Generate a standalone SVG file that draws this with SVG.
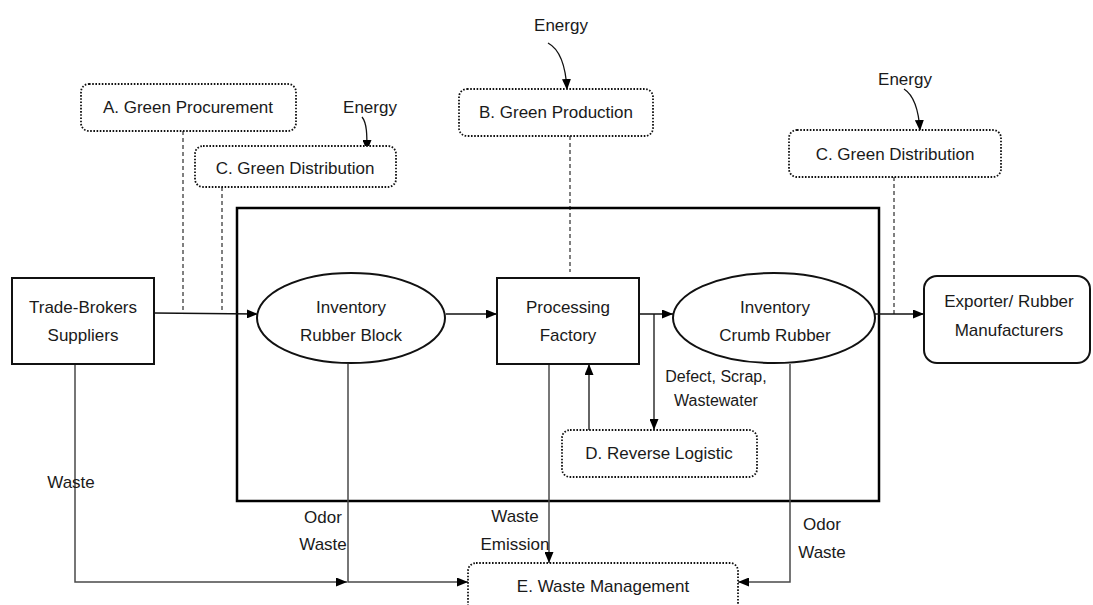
<svg xmlns="http://www.w3.org/2000/svg" width="1093" height="605" viewBox="0 0 1093 605">
  <style>
    text { font-family: "Liberation Sans", Arial, sans-serif; font-size: 17px; fill: #1a1a1a; text-anchor: middle; dominant-baseline: central; }
    .small { font-size: 16px; }
    .node { fill: #fff; stroke: #111; stroke-width: 2; }
    .green { fill: #fff; stroke: #111; stroke-width: 1.8; stroke-dasharray: 1.6 1.6; }
    .frame { fill: none; stroke: #000; stroke-width: 2.5; }
    .flow { fill: none; stroke: #111; stroke-width: 1.3; }
    .drop { fill: none; stroke: #4a4a4a; stroke-width: 1.5; }
    .link { fill: none; stroke: #000; stroke-width: 1; stroke-dasharray: 4 3; }
  </style>
  <defs>
    <marker id="arrow" markerUnits="userSpaceOnUse" markerWidth="11" markerHeight="9" refX="11" refY="4.5" orient="auto">
      <path d="M0,0 L11,4.5 L0,9 z" fill="#000"/>
    </marker>
  </defs>

  <rect width="1093" height="605" fill="#fff"/>

  <!-- system boundary -->
  <rect class="frame" x="237" y="208" width="642" height="293"/>

  <!-- connectors -->
  <g id="connectors">
    <!-- dashed links from the green practices -->
    <line class="link" x1="183" y1="131" x2="183" y2="313"/>
    <line class="link" x1="222" y1="187" x2="222" y2="313"/>
    <line class="link" x1="570" y1="136" x2="570" y2="272"/>
    <line class="link" x1="894" y1="177" x2="894" y2="314"/>

    <!-- energy inputs -->
    <path class="flow" d="M362,117 C367,123 367,135 367,151" marker-end="url(#arrow)"/>
    <path class="flow" d="M548,43 C561,50 566,70 567,90" marker-end="url(#arrow)"/>
    <path class="flow" d="M904,89 C915,96 919,114 920,131" marker-end="url(#arrow)"/>

    <!-- main material flow -->
    <line class="flow" x1="154" y1="313" x2="258" y2="314" marker-end="url(#arrow)"/>
    <line class="flow" x1="446" y1="314" x2="497" y2="314" marker-end="url(#arrow)"/>
    <line class="flow" x1="639" y1="314" x2="673" y2="314" marker-end="url(#arrow)"/>
    <line class="flow" x1="875" y1="314" x2="924" y2="314" marker-end="url(#arrow)"/>

    <!-- reverse logistic loop -->
    <polyline class="flow" points="654,314 654,430" marker-end="url(#arrow)"/>
    <line class="flow" x1="589" y1="430" x2="589" y2="364" marker-end="url(#arrow)"/>

    <!-- waste streams -->
    <polyline class="drop" points="75,364 75,582 347,582" marker-end="url(#arrow)"/>
    <polyline class="drop" points="348,364 348,582 468,582" marker-end="url(#arrow)"/>
    <line class="drop" x1="549" y1="364" x2="549" y2="563" marker-end="url(#arrow)"/>
    <polyline class="drop" points="790,364 790,582 738,582" marker-end="url(#arrow)"/>
  </g>

  <!-- flow labels -->
  <g id="labels">
    <text x="370" y="107">Energy</text>
    <text x="561" y="25">Energy</text>
    <text x="905" y="79">Energy</text>
    <text class="small" x="716" y="376">Defect, Scrap,</text>
    <text class="small" x="716" y="400">Wastewater</text>
    <text x="71" y="482">Waste</text>
    <text x="323" y="517">Odor</text>
    <text x="323" y="544">Waste</text>
    <text x="515" y="516">Waste</text>
    <text x="515" y="544">Emission</text>
    <text x="822" y="524">Odor</text>
    <text x="822" y="552">Waste</text>
  </g>

  <!-- green practice nodes -->
  <g id="green-procurement">
    <rect class="green" x="81" y="84" width="215" height="47" rx="8"/>
    <text x="188" y="107">A. Green Procurement</text>
  </g>
  <g id="green-distribution-in">
    <rect class="green" x="195" y="146" width="201" height="41" rx="8"/>
    <text x="295" y="168">C. Green Distribution</text>
  </g>
  <g id="green-production">
    <rect class="green" x="459" y="89" width="194" height="47" rx="8"/>
    <text x="556" y="112">B. Green Production</text>
  </g>
  <g id="green-distribution-out">
    <rect class="green" x="789" y="130" width="212" height="47" rx="8"/>
    <text x="895" y="154">C. Green Distribution</text>
  </g>
  <g id="reverse-logistic">
    <rect class="green" x="562" y="430" width="195" height="47" rx="8"/>
    <text x="659" y="453">D. Reverse Logistic</text>
  </g>
  <g id="waste-management">
    <rect class="green" x="468" y="563" width="270" height="60" rx="8"/>
    <text x="603" y="586">E. Waste Management</text>
  </g>

  <!-- supply chain nodes -->
  <g id="suppliers">
    <rect class="node" x="12" y="278" width="142" height="86"/>
    <text x="83" y="307">Trade-Brokers</text>
    <text x="83" y="335">Suppliers</text>
  </g>
  <g id="inventory-block">
    <ellipse class="node" cx="351" cy="318" rx="94" ry="45"/>
    <text x="351" y="307">Inventory</text>
    <text x="351" y="335">Rubber Block</text>
  </g>
  <g id="processing-factory">
    <rect class="node" x="497" y="278" width="142" height="86"/>
    <text x="568" y="307">Processing</text>
    <text x="568" y="335">Factory</text>
  </g>
  <g id="inventory-crumb">
    <ellipse class="node" cx="774" cy="318" rx="101" ry="45"/>
    <text x="775" y="307">Inventory</text>
    <text x="775" y="335">Crumb Rubber</text>
  </g>
  <g id="exporter">
    <rect class="node" x="924" y="276" width="166" height="87" rx="13"/>
    <text x="1009" y="301">Exporter/ Rubber</text>
    <text x="1009" y="330">Manufacturers</text>
  </g>
</svg>
